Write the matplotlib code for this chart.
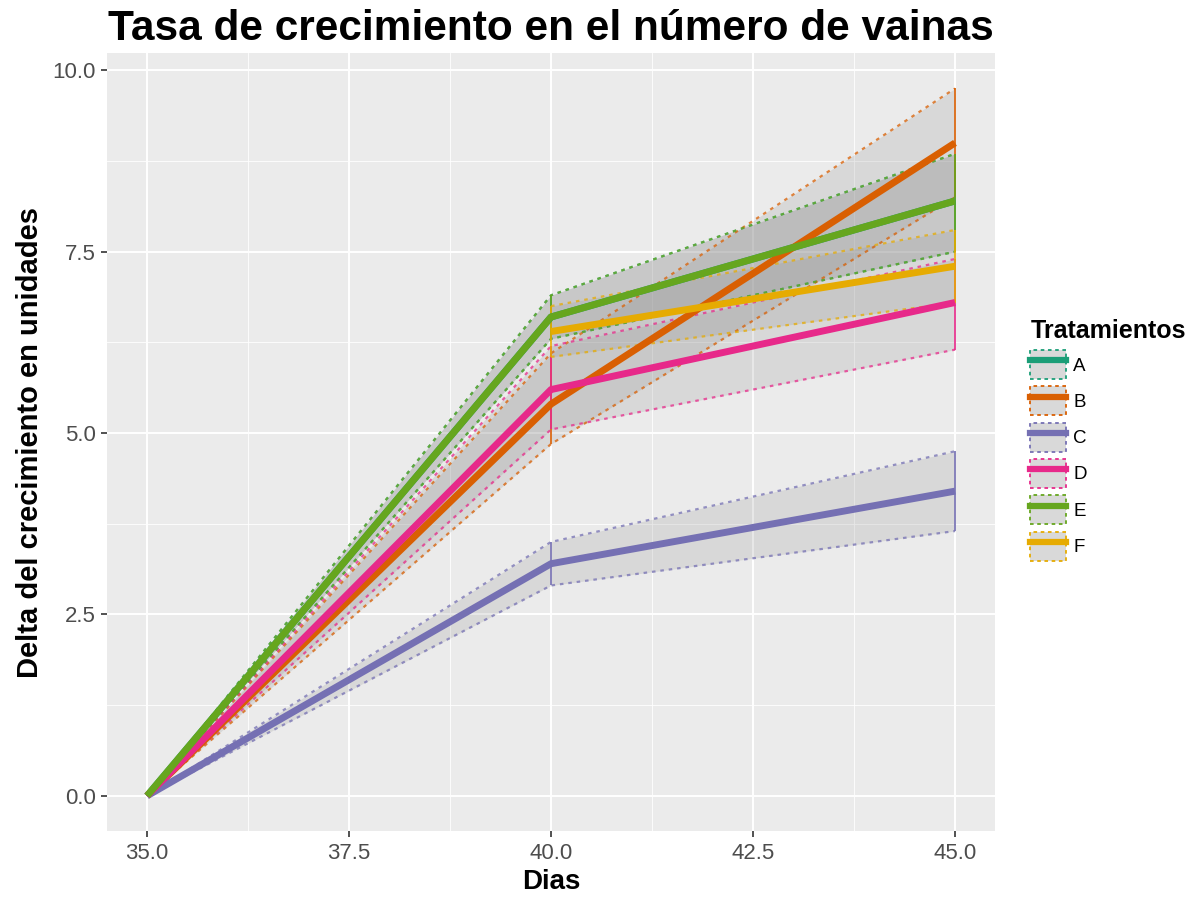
import matplotlib

matplotlib.use("Agg")

import matplotlib.pyplot as plt
import numpy as np
from matplotlib.lines import Line2D
from matplotlib.patches import Patch
from matplotlib.ticker import MultipleLocator

plt.rcParams["font.family"] = ["Liberation Sans", "DejaVu Sans"]

# data (F has no value on day 35)
days = [35.0, 40.0, 45.0]
treatments = ["A", "B", "C", "D", "E", "F"]
colors = ["#1B9E77", "#D95F02", "#7570B3", "#E7298A", "#66A61E", "#E6AB02"]
mean_values = {
    "A": [0.0, 6.6, 8.2],
    "B": [0.0, 5.4, 9.0],
    "C": [0.0, 3.2, 4.2],
    "D": [0.0, 5.6, 6.8],
    "E": [0.0, 6.6, 8.2],
    "F": [np.nan, 6.4, 7.3],
}
lower_values = {
    "A": [0.0, 6.3, 7.5],
    "B": [0.0, 4.85, 8.25],
    "C": [0.0, 2.9, 3.65],
    "D": [0.0, 5.05, 6.15],
    "E": [0.0, 6.3, 7.5],
    "F": [np.nan, 6.05, 6.8],
}
upper_values = {
    "A": [0.0, 6.9, 8.85],
    "B": [0.0, 6.1, 9.75],
    "C": [0.0, 3.5, 4.75],
    "D": [0.0, 6.2, 7.4],
    "E": [0.0, 6.9, 8.85],
    "F": [np.nan, 6.75, 7.8],
}

fig = plt.figure(figsize=(11.97, 9.0), dpi=100)
ax = fig.add_axes([0.0891, 0.0762, 0.7425, 0.865])
ax.set_facecolor("#EBEBEB")
for spine in ax.spines.values():
    spine.set_visible(False)

ax.xaxis.set_major_locator(MultipleLocator(2.5))
ax.xaxis.set_minor_locator(MultipleLocator(1.25))
ax.yaxis.set_major_locator(MultipleLocator(2.5))
ax.yaxis.set_minor_locator(MultipleLocator(1.25))
ax.grid(which="major", color="white", linewidth=1.4)
ax.grid(which="minor", color="white", linewidth=0.6)
ax.set_axisbelow(True)
ax.tick_params(which="minor", length=0)
ax.tick_params(which="major", length=4, width=1.2, color="#333333",
               labelsize=16, labelcolor="#4D4D4D", pad=4)
ax.xaxis.set_major_formatter(lambda v, p: f"{v:.1f}")
ax.yaxis.set_major_formatter(lambda v, p: f"{v:.1f}")

# ribbons with dotted coloured borders and error bars
for name, color in zip(treatments, colors):
    lo = np.asarray(lower_values[name], dtype=float)
    hi = np.asarray(upper_values[name], dtype=float)
    ok = ~np.isnan(lo)
    x = np.asarray(days)[ok]
    ax.fill_between(x, lo[ok], hi[ok], color="#8C8C8C", alpha=0.2, linewidth=0)
    ax.plot(x, lo[ok], color=color, linewidth=1.6, dashes=(1.6, 2.2), alpha=0.75)
    ax.plot(x, hi[ok], color=color, linewidth=1.6, dashes=(1.6, 2.2), alpha=0.75)
    ax.vlines(x, lo[ok], hi[ok], color=color, linewidth=1.2)

for name, color in zip(treatments, colors):
    ax.plot(days, mean_values[name], color=color, linewidth=5,
            solid_capstyle="butt")

ax.set_xlim(34.5, 45.5)
ax.set_ylim(-0.49, 10.24)
ax.set_xlabel("Dias", fontsize=20, fontweight="bold", labelpad=4)
ax.set_ylabel("Delta del crecimiento en unidades", fontsize=21,
              fontweight="bold", labelpad=6)
fig.text(0.460, 0.968, "Tasa de crecimiento en el número de vainas",
         ha="center", va="center", fontsize=30.5, fontweight="bold")

handles = []
for color in colors:
    box = Patch(facecolor="#D9D9D9", edgecolor=color, linestyle=(0, (2, 2)),
                linewidth=1.3)
    line = Line2D([], [], color=color, linewidth=4.5)
    handles.append((box, line))

leg = fig.legend(
    handles,
    treatments,
    title="Tratamientos",
    loc="upper left",
    bbox_to_anchor=(0.8545, 0.654),
    frameon=False,
    fontsize=13.5,
    title_fontproperties={"weight": "bold", "size": 18},
    handlelength=1.9,
    handleheight=2.0,
    handletextpad=0.4,
    labelspacing=0.39,
    borderaxespad=0,
)
leg._legend_box.align = "left"

fig.savefig("out.png", dpi=100)
